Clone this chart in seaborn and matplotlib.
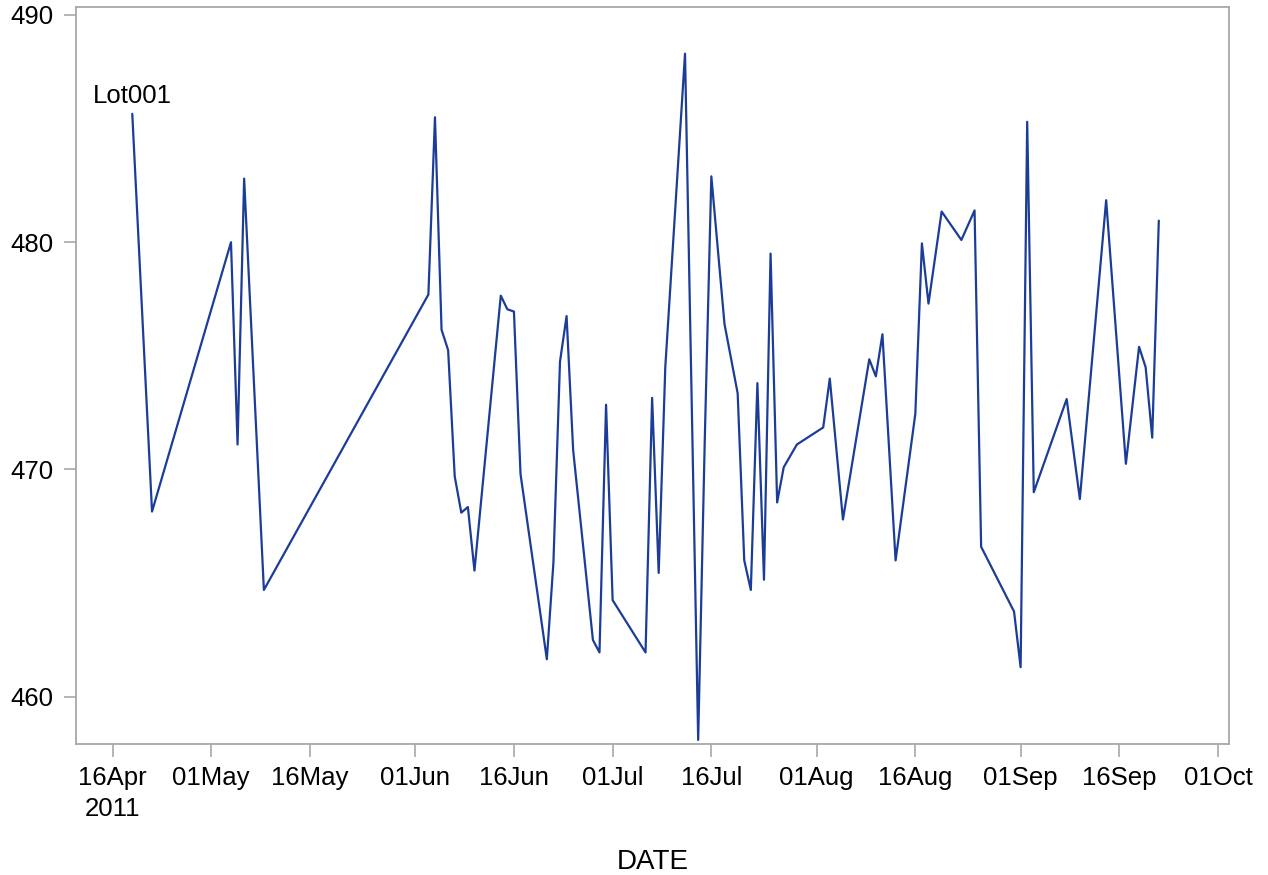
import matplotlib
matplotlib.use("Agg")
import matplotlib.pyplot as plt
import matplotlib.dates as mdates
from matplotlib.ticker import FuncFormatter, FixedLocator
import seaborn as sns
import pandas as pd

dates = [
    "2011-04-19", "2011-04-22", "2011-05-04", "2011-05-05", "2011-05-06", "2011-05-09",
    "2011-06-03", "2011-06-04", "2011-06-05", "2011-06-06", "2011-06-07", "2011-06-08",
    "2011-06-09", "2011-06-10", "2011-06-14", "2011-06-15", "2011-06-16", "2011-06-17",
    "2011-06-21", "2011-06-22", "2011-06-23", "2011-06-24", "2011-06-25", "2011-06-28",
    "2011-06-29", "2011-06-30", "2011-07-01", "2011-07-06", "2011-07-07", "2011-07-08",
    "2011-07-09", "2011-07-12", "2011-07-14", "2011-07-15", "2011-07-16", "2011-07-18",
    "2011-07-20", "2011-07-21", "2011-07-22", "2011-07-23", "2011-07-24", "2011-07-25",
    "2011-07-26", "2011-07-27", "2011-07-29", "2011-08-02", "2011-08-03", "2011-08-05",
    "2011-08-09", "2011-08-10", "2011-08-11", "2011-08-13", "2011-08-16", "2011-08-17",
    "2011-08-18", "2011-08-20", "2011-08-23", "2011-08-25", "2011-08-26", "2011-08-31",
    "2011-09-01", "2011-09-02", "2011-09-03", "2011-09-08", "2011-09-10", "2011-09-14",
    "2011-09-17", "2011-09-19", "2011-09-20", "2011-09-21", "2011-09-22",
]
values = [
    485.65, 468.15, 480.0, 471.1, 482.8, 464.7,
    477.7, 485.5, 476.15, 475.25, 469.7, 468.1,
    468.35, 465.55, 477.65, 477.05, 476.95, 469.8,
    461.65, 465.9, 474.75, 476.75, 470.85, 462.5,
    461.95, 472.85, 464.25, 461.95, 473.15, 465.45,
    474.5, 488.3, 458.1, 471.3, 482.9, 476.4,
    473.35, 466.0, 464.7, 473.8, 465.15, 479.5,
    468.55, 470.1, 471.1, 471.85, 474.0, 467.8,
    474.85, 474.1, 475.95, 466.0, 472.45, 479.95,
    477.3, 481.35, 480.1, 481.4, 466.6, 463.75,
    461.3, 485.3, 469.0, 473.1, 468.7, 481.85,
    470.25, 475.4, 474.5, 471.4, 480.95,
]
lot_label = "Lot001"
y_ticks = [460, 470, 480, 490]
x_label = "DATE"

df = pd.DataFrame({"DATE": pd.to_datetime(dates), "VALUE": values})

sns.set_theme(style="white")
plt.rcParams["font.family"] = ["Liberation Sans", "DejaVu Sans"]

fig = plt.figure(figsize=(12.68, 8.75), dpi=100)
ax = fig.add_axes([0.0599, 0.1497, 0.9093, 0.8420])

line_color = "#1b3d98"
frame_color = "#a8a8a8"

sns.lineplot(data=df, x="DATE", y="VALUE", ax=ax, color=line_color,
             linewidth=1.6, estimator=None, sort=False)

x0 = mdates.date2num(pd.Timestamp("2011-04-16"))
ax.set_xlim(x0 - 5.56, x0 + 169.66)
ax.set_ylim(457.92, 490.34)

ax.xaxis.set_major_locator(mdates.DayLocator(bymonthday=[1, 16]))
first_tick = x0

def fmt(x, pos):
    d = mdates.num2date(x)
    s = d.strftime("%d%b")
    if abs(x - first_tick) < 0.5:
        s += "\n" + d.strftime("%Y")
    return s

ax.xaxis.set_major_formatter(FuncFormatter(fmt))
ax.yaxis.set_major_locator(FixedLocator(y_ticks))

ax.tick_params(axis="both", which="major", length=9, width=1.2, color=frame_color,
               labelsize=18.5, labelcolor="black", pad=7,
               bottom=True, left=True, top=False, right=False)
for lbl in ax.get_xticklabels():
    lbl.set_multialignment("center")
    lbl.set_linespacing(1.35)
for sp in ax.spines.values():
    sp.set_color(frame_color)
    sp.set_linewidth(1.3)
    sp.set_visible(True)

ax.set_xlabel(x_label, fontsize=20, color="black", labelpad=20)
ax.set_ylabel("")
ax.grid(False)

ax.annotate(lot_label, xy=(df["DATE"].iloc[0], df["VALUE"].iloc[0]),
            xytext=(0, 4), textcoords="offset points", ha="center", va="bottom",
            fontsize=18.5, color="black")

fig.savefig("out.png", dpi=100, facecolor="white")
